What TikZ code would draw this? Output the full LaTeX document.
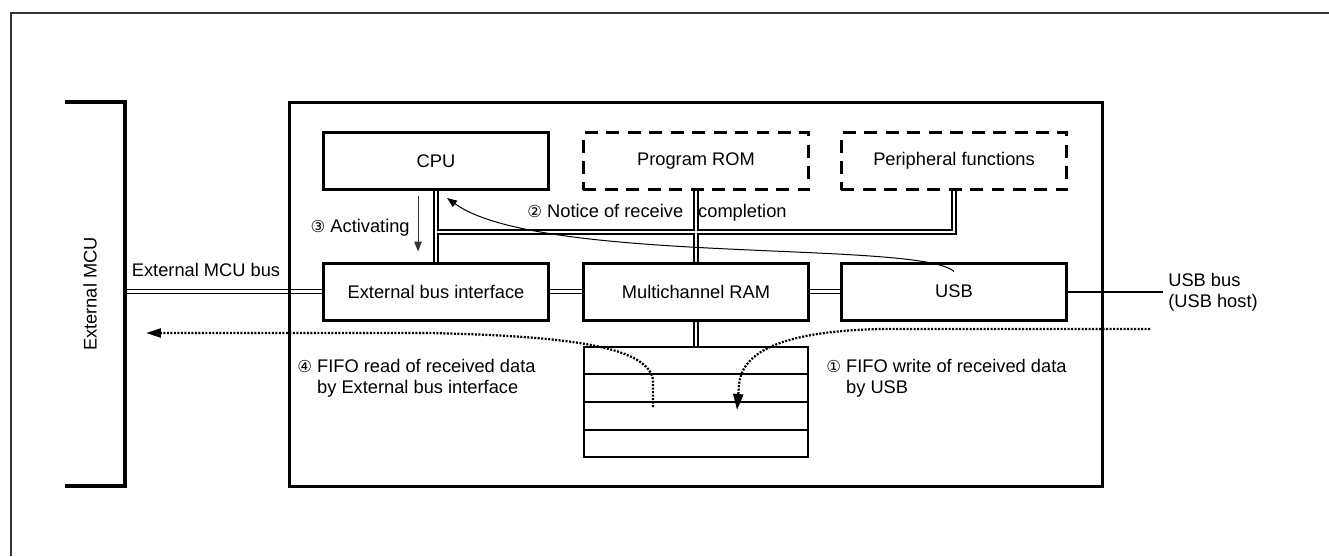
\documentclass[tikz,border=0pt]{standalone}
\usepackage{fontspec}
\setmainfont{Liberation Sans}
\newfontfamily\circfont[Scale=0.9]{DejaVu Sans}
\usetikzlibrary{arrows.meta,calc,backgrounds}
\tikzset{
  blk/.style={draw, line width=0.06cm, minimum width=4.52cm, minimum height=1.14cm, inner sep=0pt},
  optblk/.style={blk, dash pattern=on 0.26cm off 0.17cm},
  lbl/.style={inner sep=0pt, align=left},
  bus/.style={double, double distance=0.05cm, line width=0.03cm},
  flow/.style={line width=0.045cm, dash pattern=on 0.04cm off 0.03cm},
}
\begin{document}
\begin{tikzpicture}[x=0.02cm, y=-0.02cm, >={Triangle[length=0.2cm,width=0.15cm]}, font=\fontsize{10.4}{12}\selectfont]
    \useasboundingbox (0,0) rectangle (1329,556);
    \draw[line width=0.04cm, black!80] (11,556) -- (11,13) -- (1329,13);
    \draw[line width=0.07cm] (65,102) -- (125,102) -- (125,486) -- (65,486);
    \draw[line width=0.06cm] (289,102) rectangle (1102,486);
    \node[rotate=90] (mcu) at (90,294) {External MCU};

    \node[blk] (cpu) at (436,161) {CPU};
    \node[optblk] (rom) at (696,161) {Program ROM};
    \node[optblk] (peri) at (954,161) {Peripheral functions};
    \node[blk] (ebi) at (436,291.5) {External bus interface};
    \node[blk] (ram) at (696,291.5) {Multichannel RAM};
    \node[blk] (usb) at (954,291.5) {USB};
    \node[draw, line width=0.04cm, minimum width=4.48cm, minimum height=2.2cm] (fifo) at (696,402) {};
    \foreach \k in {1,2,3}
        \draw[line width=0.04cm] ($(fifo.north west)!\k/4!(fifo.south west)$) -- ($(fifo.north east)!\k/4!(fifo.south east)$);

    \coordinate (busl) at (436,232);
    \coordinate (busr) at (954,232);
    \coordinate (mcubus) at (125,291.5);
    \coordinate (usbend) at (1163,291.5);
    \begin{scope}[on background layer]
        \draw[bus] (cpu.south) -- (ebi.north) (busl) -- (busr) -- (peri.south) (rom.south) -- (ram.north)
            (mcubus) -- (ebi.west) (ebi.east) -- (ram.west) (ram.east) -- (usb.west) (ram.south) -- (fifo.north);
    \end{scope}
    \draw[line width=0.04cm] (usb.east) -- (usbend);
    \node[lbl] (mcubuslbl) at (206,270) {External MCU bus};
    \node[lbl, anchor=west] (usbbuslbl) at (1168,292) {USB bus\\(USB host)};

    \draw[->, line width=0.02cm, black!80] ([xshift=-0.36cm,yshift=-0.1cm]cpu.south) -- ([xshift=-0.36cm,yshift=0.2cm]ebi.north);
    \node[lbl, anchor=east] (actlbl) at (410,228) {{\circfont ③} Activating};
    \draw[->, line width=0.02cm] ([yshift=-0.2cm]usb.north) .. controls (920,240) and (540,265) .. ([xshift=0.22cm,yshift=-0.14cm]cpu.south);
    \node[lbl, anchor=west] (noticelbl) at (527,213) {{\circfont ②} Notice of receive\hspace{0.3cm}completion};

    \coordinate (rdsrc) at (653,407);
    \coordinate (rdtip) at (146,333);
    \coordinate (wrsrc) at (1150,329);
    \coordinate (wrtip) at (737,410);
    \draw[flow, -{Triangle[length=0.3cm,width=0.18cm]}] (rdsrc) -- (653,380) .. controls (648,345) and (560,336) .. (430,333) -- (rdtip);
    \draw[flow, -{Triangle[length=0.32cm,width=0.2cm]}] (wrsrc) -- (880,329) .. controls (800,331) and (742,345) .. (739,385) -- (wrtip);
    \node[lbl, anchor=west] (rdlbl) at (297,378) {{\circfont ④} FIFO read of received data\\\hphantom{\circfont ④} by External bus interface};
    \node[lbl, anchor=west] (wrlbl) at (826,378) {{\circfont ①} FIFO write of received data\\\hphantom{\circfont ①} by USB};
\end{tikzpicture}
\end{document}
